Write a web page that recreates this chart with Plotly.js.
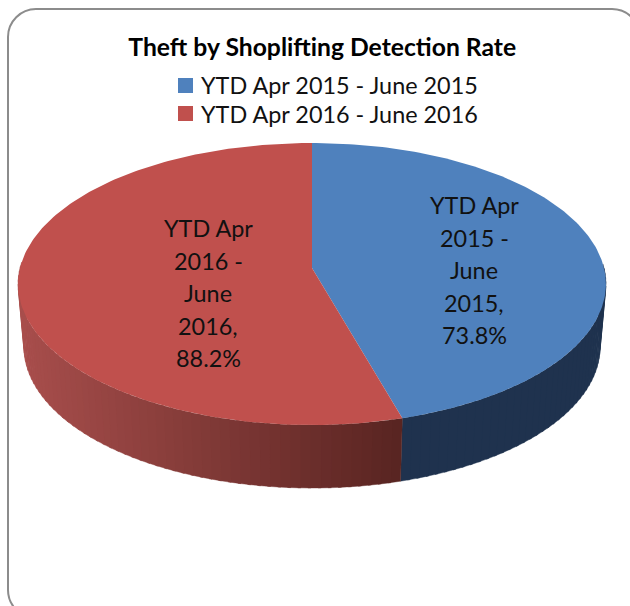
<!DOCTYPE html>
<html>
<head>
<meta charset="utf-8">
<script src="https://cdn.plot.ly/plotly-3.0.1.min.js"></script>
<style>html,body{margin:0;padding:0;background:#fff}#chart{width:630px;height:606px}</style>
</head>
<body>
<div id="chart"></div>
<script>
// Data
const chartTitle = "Theft by Shoplifting Detection Rate";
const categories = ["YTD Apr 2015 - June 2015", "YTD Apr 2016 - June 2016"];
const values = [73.8, 88.2];
const labelLines = [
  ["YTD Apr", "2015 -", "June", "2015,", "73.8%"],
  ["YTD Apr", "2016 -", "June", "2016,", "88.2%"]
];
const topColors = ["#4f81bd", "#c0504d"];
// wall colour at left / right end of each slice's wall
const wallLeft = [[31, 50, 78], [168, 78, 76]];
const wallRight = [[30, 50, 78], [88, 36, 33]];

// Projection of the tilted disc into the plot's coordinates
const cx = 312, cy = 268, A = 139.2, B = 292, K = 0.1135, DEPTH = 63, SHRINK = 0.98;
function rim(frac) {
  const t = frac * 2 * Math.PI, u = Math.sin(t), v = Math.cos(t), d = 1 + K * v;
  return [cx + B * u / d, cy - A * v / d];
}
function low(p) { return [cx + (p[0] - cx) * SHRINK, p[1] + DEPTH]; }

const total = values.reduce((a, b) => a + b, 0);
const traces = [];
let start = 0;
const spans = values.map(v => { const s = [start, start + v / total]; start = s[1]; return s; });

// Side wall: narrow quads along the front of the rim only
spans.forEach((s, i) => {
  const n = Math.max(2, Math.round((s[1] - s[0]) * 200));
  for (let j = 0; j < n; j++) {
    const f0 = s[0] + (s[1] - s[0]) * j / n, f1 = s[0] + (s[1] - s[0]) * (j + 1.3) / n;
    if (Math.cos(f0 * 2 * Math.PI) > 0.02 && Math.cos(Math.min(f1, s[1]) * 2 * Math.PI) > 0.02) continue;
    const a = rim(f0), b = rim(Math.min(f1, s[1])), c = low(b), d = low(a);
    const mid = (a[0] + b[0]) / 2;
    const m = Math.min(1, Math.max(0, (mid - 18) / (i === 1 ? 384 : 204)));
    const q = i === 1 ? m : 1 - m;
    const col = wallLeft[i].map((w, k) => Math.round(w + (wallRight[i][k] - w) * q));
    traces.push({
      type: "scatter", mode: "lines", x: [a[0], b[0], c[0], d[0], a[0]], y: [a[1], b[1], c[1], d[1], a[1]],
      fill: "toself", fillcolor: `rgb(${col})`, line: {width: 0.4, color: `rgb(${col})`},
      hoverinfo: "skip", showlegend: false
    });
  }
});

// Top faces of the slices
spans.forEach((s, i) => {
  const xs = [cx], ys = [cy], n = 180;
  for (let j = 0; j <= n; j++) {
    const p = rim(s[0] + (s[1] - s[0]) * j / n);
    xs.push(p[0]); ys.push(p[1]);
  }
  xs.push(cx); ys.push(cy);
  traces.push({
    type: "scatter", mode: "lines", x: xs, y: ys, fill: "toself", fillcolor: topColors[i],
    line: {width: 0}, name: categories[i], showlegend: false,
    hovertemplate: categories[i] + ", " + values[i] + "%<extra></extra>"
  });
});

const FONT = "Lato, 'Open Sans', sans-serif";
// Slice labels, one annotation per line to hold the line pitch
const labelX = [474, 208], labelY0 = [205, 228], PITCH = 32.6;
const annotations = [];
labelLines.forEach((lines, i) => lines.forEach((t, j) => annotations.push({
  x: labelX[i], y: labelY0[i] + j * PITCH, xref: "x", yref: "y", showarrow: false,
  text: t, xanchor: "center", yanchor: "middle", font: {family: FONT, size: 23.4, color: "#111"}
})));

// Legend rows
const legendY = [85, 113.5], swatch = [[178, 193, 78, 93], [178, 193, 106, 121]];
categories.forEach((c, i) => annotations.push({
  x: 199, y: legendY[i], xref: "x", yref: "y", showarrow: false, xanchor: "left", yanchor: "middle",
  text: c, font: {family: FONT, size: 23.4, color: "#111"}
}));
const legendShapes = swatch.map((b, i) => ({
  type: "rect", xref: "x", yref: "y", x0: b[0], x1: b[1], y0: b[2], y1: b[3],
  fillcolor: topColors[i], line: {width: 0}
}));

const r = 28, L = 8, T = 9, R = 640, Bm = 618, k = r * 0.45;
const frame = `M${L},${T + r} C${L},${T + k} ${L + k},${T} ${L + r},${T} L${R - r},${T} C${R - k},${T} ${R},${T + k} ${R},${T + r} L${R},${Bm - r} C${R},${Bm - k} ${R - k},${Bm} ${R - r},${Bm} L${L + r},${Bm} C${L + k},${Bm} ${L},${Bm - k} ${L},${Bm - r} Z`;

const layout = {
  width: 630, height: 606, margin: {l: 0, r: 0, t: 0, b: 0},
  paper_bgcolor: "#fff", plot_bgcolor: "#fff",
  xaxis: {range: [0, 630], visible: false, fixedrange: true},
  yaxis: {range: [606, 0], visible: false, fixedrange: true},
  title: {text: "<b>" + chartTitle + "</b>", x: 0.5115, xanchor: "center", y: 0.922, yanchor: "middle",
          font: {family: FONT, size: 24.7, color: "#000"}},
  shapes: [{type: "path", path: frame, xref: "x", yref: "y", layer: "below", line: {color: "#8c8c8c", width: 2}}].concat(legendShapes),
  annotations: annotations,
  showlegend: false
};
Plotly.newPlot("chart", traces, layout, {displayModeBar: false});
</script>
</body>
</html>
